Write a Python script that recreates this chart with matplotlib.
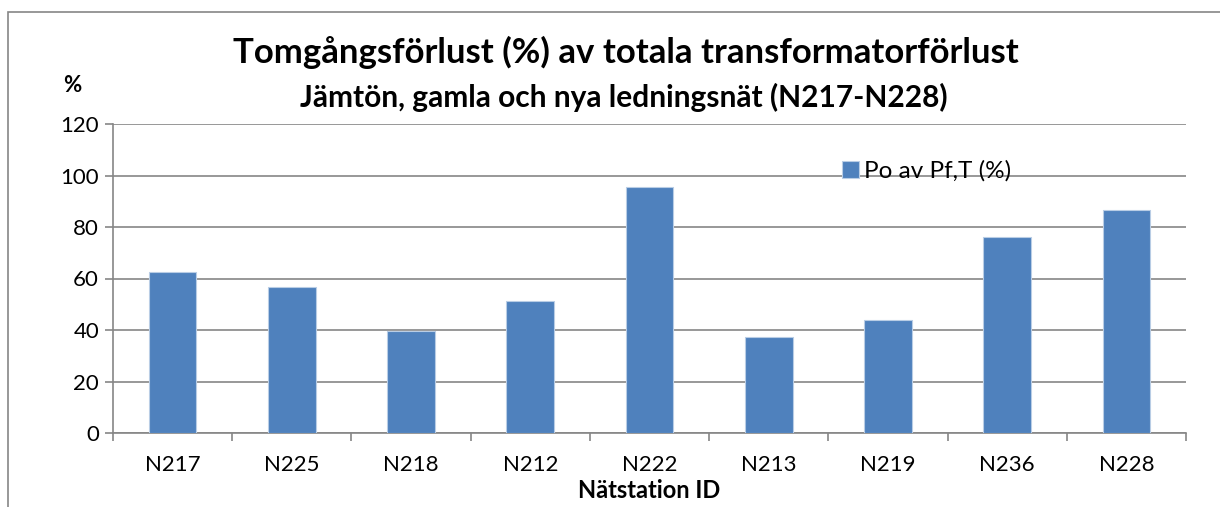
import matplotlib
matplotlib.use("Agg")
import matplotlib.pyplot as plt
from matplotlib.patches import Rectangle
import numpy as np

# Data
stations = ["N217", "N225", "N218", "N212", "N222", "N213", "N219", "N236", "N228"]
po_share = [62.5, 56.7, 39.5, 51.4, 95.5, 37.4, 43.8, 76.0, 86.5]
yticks = [0, 20, 40, 60, 80, 100, 120]

plt.rcParams["font.family"] = ["Lato", "DejaVu Sans"]
grey = "#868686"

fig = plt.figure(figsize=(12.2, 5.07), dpi=100)
W, H = 1220, 507
ax = fig.add_axes([113 / W, 1 - 433 / H, (1186 - 113) / W, (433 - 124) / H])

# outer chart frame
fig.patches.append(Rectangle((8 / W, -0.1), 1.2, 1 - 12 / H + 0.1,
                             transform=fig.transFigure, fill=False,
                             edgecolor=grey, linewidth=1.2))

x = np.arange(len(stations))
ax.bar(x, po_share, width=0.4, color="#4F81BD", edgecolor="#B9CDE5",
       linewidth=0.8, label="Po av Pf,T (%)", zorder=3)

ax.set_xlim(-0.5, len(stations) - 0.5)
ax.set_ylim(0, 120)
ax.set_yticks(yticks)
ax.set_yticklabels([str(v) for v in yticks], fontsize=16)
ax.set_xticks(x)
ax.set_xticklabels(stations, fontsize=16)
ax.tick_params(axis="x", length=0, pad=16)
ax.set_xticks(np.arange(-0.5, len(stations)), minor=True)
ax.tick_params(axis="x", which="minor", length=6, color=grey, width=1.2)
ax.tick_params(axis="y", length=6, color=grey, width=1.2, pad=4)
ax.grid(axis="y", color=grey, linewidth=1.2, zorder=0)

for side in ["top", "right"]:
    ax.spines[side].set_visible(False)
for side in ["left", "bottom"]:
    ax.spines[side].set_color(grey)
    ax.spines[side].set_linewidth(1.2)

ax.set_xlabel("Nätstation ID", fontsize=17, fontweight="bold", labelpad=3)

fig.text(626 / W, 1 - 52 / H, "Tomgångsförlust (%) av totala transformatorförlust",
         ha="center", va="center", fontsize=25, fontweight="bold")
fig.text(624 / W, 1 - 97 / H, "Jämtön, gamla och nya ledningsnät (N217-N228)",
         ha="center", va="center", fontsize=21.5, fontweight="bold")
fig.text(72 / W, 1 - 85 / H, "%", ha="center", va="center",
         fontsize=16, fontweight="bold")

ax.legend(loc="upper left", bbox_to_anchor=(842 / W, 1 - 160 / H),
          bbox_transform=fig.transFigure, frameon=False, fontsize=17.5,
          handlelength=0.7, handleheight=0.7, handletextpad=0.2,
          borderaxespad=0, borderpad=0)

fig.savefig("out.png", dpi=100)
